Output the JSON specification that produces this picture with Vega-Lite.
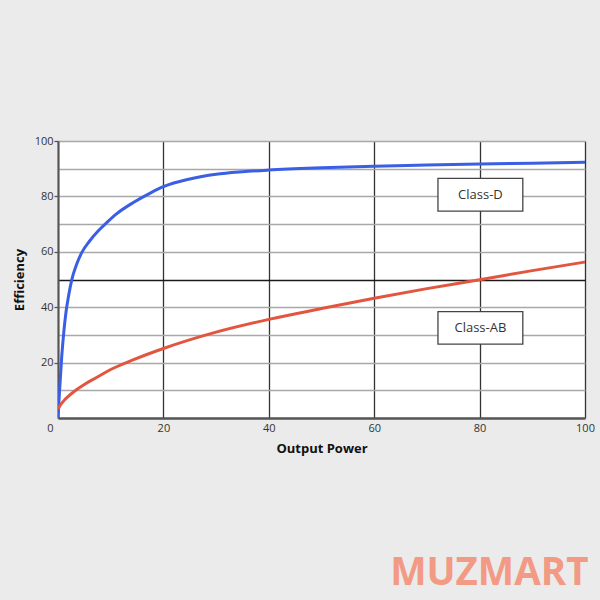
{
  "$schema": "https://vega.github.io/schema/vega-lite/v6.json",
  "width": 527,
  "height": 277,
  "autosize": {"type": "none"},
  "padding": {"left": 58, "top": 141, "right": 15, "bottom": 182},
  "background": "#ebebeb",
  "title": {
    "text": "MUZMART",
    "orient": "bottom",
    "anchor": "end",
    "color": "#f29a84",
    "font": "Open Sans",
    "fontSize": 38.5,
    "fontWeight": "bold",
    "offset": 100,
    "dx": -6
  },
  "config": {
    "view": {"fill": "white", "stroke": null},
    "axis": {
      "labelFont": "Open Sans",
      "labelFontSize": 11,
      "labelColor": "#333",
      "titleFont": "Open Sans",
      "titleFontSize": 13,
      "titleFontWeight": "bold",
      "titleColor": "#111"
    }
  },
  "datasets": {
    "curves": [
      {"series": "Class-D", "power": 0, "eff": 0},
      {"series": "Class-D", "power": 0.3, "eff": 10},
      {"series": "Class-D", "power": 0.7, "eff": 22},
      {"series": "Class-D", "power": 1.1, "eff": 31},
      {"series": "Class-D", "power": 1.5, "eff": 38},
      {"series": "Class-D", "power": 2, "eff": 44},
      {"series": "Class-D", "power": 2.6, "eff": 49.8},
      {"series": "Class-D", "power": 3.5, "eff": 55.3},
      {"series": "Class-D", "power": 4.5, "eff": 59.7},
      {"series": "Class-D", "power": 6, "eff": 63.9},
      {"series": "Class-D", "power": 7.65, "eff": 67.6},
      {"series": "Class-D", "power": 9.5, "eff": 71},
      {"series": "Class-D", "power": 11.1, "eff": 73.7},
      {"series": "Class-D", "power": 14.3, "eff": 77.8},
      {"series": "Class-D", "power": 17.5, "eff": 81.2},
      {"series": "Class-D", "power": 20, "eff": 83.5},
      {"series": "Class-D", "power": 25, "eff": 86.3},
      {"series": "Class-D", "power": 30, "eff": 88},
      {"series": "Class-D", "power": 35, "eff": 88.9},
      {"series": "Class-D", "power": 40, "eff": 89.5},
      {"series": "Class-D", "power": 50, "eff": 90.3},
      {"series": "Class-D", "power": 60, "eff": 90.9},
      {"series": "Class-D", "power": 70, "eff": 91.3},
      {"series": "Class-D", "power": 80, "eff": 91.7},
      {"series": "Class-D", "power": 90, "eff": 92},
      {"series": "Class-D", "power": 100, "eff": 92.3},
      {"series": "Class-AB", "power": 0, "eff": 3.2},
      {"series": "Class-AB", "power": 0.5, "eff": 4.8},
      {"series": "Class-AB", "power": 1, "eff": 6},
      {"series": "Class-AB", "power": 2, "eff": 7.9},
      {"series": "Class-AB", "power": 3.5, "eff": 10.2},
      {"series": "Class-AB", "power": 5, "eff": 12.1},
      {"series": "Class-AB", "power": 7.3, "eff": 14.6},
      {"series": "Class-AB", "power": 10, "eff": 17.5},
      {"series": "Class-AB", "power": 14, "eff": 20.8},
      {"series": "Class-AB", "power": 20, "eff": 25.1},
      {"series": "Class-AB", "power": 30, "eff": 31},
      {"series": "Class-AB", "power": 40, "eff": 35.6},
      {"series": "Class-AB", "power": 50, "eff": 39.5},
      {"series": "Class-AB", "power": 60, "eff": 43.2},
      {"series": "Class-AB", "power": 70, "eff": 46.7},
      {"series": "Class-AB", "power": 80, "eff": 49.9},
      {"series": "Class-AB", "power": 90, "eff": 53.2},
      {"series": "Class-AB", "power": 100, "eff": 56.3}
    ],
    "labels": [
      {"series": "Class-D", "x0": 72.1, "x1": 88.2, "y0": 74.7, "y1": 86.5, "xc": 80.15, "yc": 80.6},
      {"series": "Class-AB", "x0": 72.1, "x1": 88.2, "y0": 26.7, "y1": 38.4, "xc": 80.15, "yc": 32.55}
    ]
  },
  "layer": [
    {
      "data": {"name": "curves"},
      "mark": {"type": "line", "interpolate": "monotone", "strokeWidth": 3, "clip": true},
      "encoding": {
        "x": {
          "field": "power", "type": "quantitative",
          "scale": {"domain": [0, 100], "nice": false},
          "axis": {
            "title": "Output Power",
            "values": [0, 20, 40, 60, 80, 100],
            "tickCount": 20,
            "ticks": false,
            "labelPadding": 4,
            "labelOffset": {"condition": {"test": "datum.value === 0", "value": -8}, "value": 0},
            "labelFlush": false,
            "grid": true,
            "gridColor": "#333",
            "gridWidth": 1.3,
            "domainColor": "#555",
            "domainWidth": 2.5,
            "titlePadding": 9
          }
        },
        "y": {
          "field": "eff", "type": "quantitative",
          "scale": {"domain": [0, 100], "nice": false},
          "axis": {
            "title": "Efficiency",
            "values": [10, 20, 30, 40, 50, 60, 70, 80, 90, 100],
            "tickCount": 20,
            "labelExpr": "(datum.value == 20 || datum.value == 40 || datum.value == 60 || datum.value == 80 || datum.value == 100) ? datum.label : ''",
            "tickSize": 4,
            "tickColor": {"condition": {"test": "datum.value % 20 === 0", "value": "#555"}, "value": "transparent"},
            "tickWidth": 1.3,
            "labelPadding": 1,
            "labelFlush": false,
            "labelOverlap": false,
            "grid": true,
            "gridColor": {"condition": {"test": "datum.value === 50", "value": "#1a1a1a"}, "value": "#a8a8a8"},
            "gridWidth": 1.5,
            "domainColor": "#555",
            "domainWidth": 2,
            "titlePadding": 8
          }
        },
        "color": {
          "field": "series", "type": "nominal",
          "scale": {"domain": ["Class-D", "Class-AB"], "range": ["#3a5fe3", "#e2553f"]},
          "legend": null
        },
        "detail": {"field": "series"}
      }
    },
    {
      "data": {"name": "labels"},
      "mark": {"type": "rect", "fill": "white", "stroke": "#444", "strokeWidth": 1.3},
      "encoding": {
        "x": {"field": "x0", "type": "quantitative"},
        "x2": {"field": "x1"},
        "y": {"field": "y0", "type": "quantitative"},
        "y2": {"field": "y1"}
      }
    },
    {
      "data": {"name": "labels"},
      "mark": {"type": "text", "font": "Open Sans", "fontSize": 13, "color": "#333", "align": "center", "baseline": "middle"},
      "encoding": {
        "x": {"field": "xc", "type": "quantitative"},
        "y": {"field": "yc", "type": "quantitative"},
        "text": {"field": "series"}
      }
    }
  ]
}
